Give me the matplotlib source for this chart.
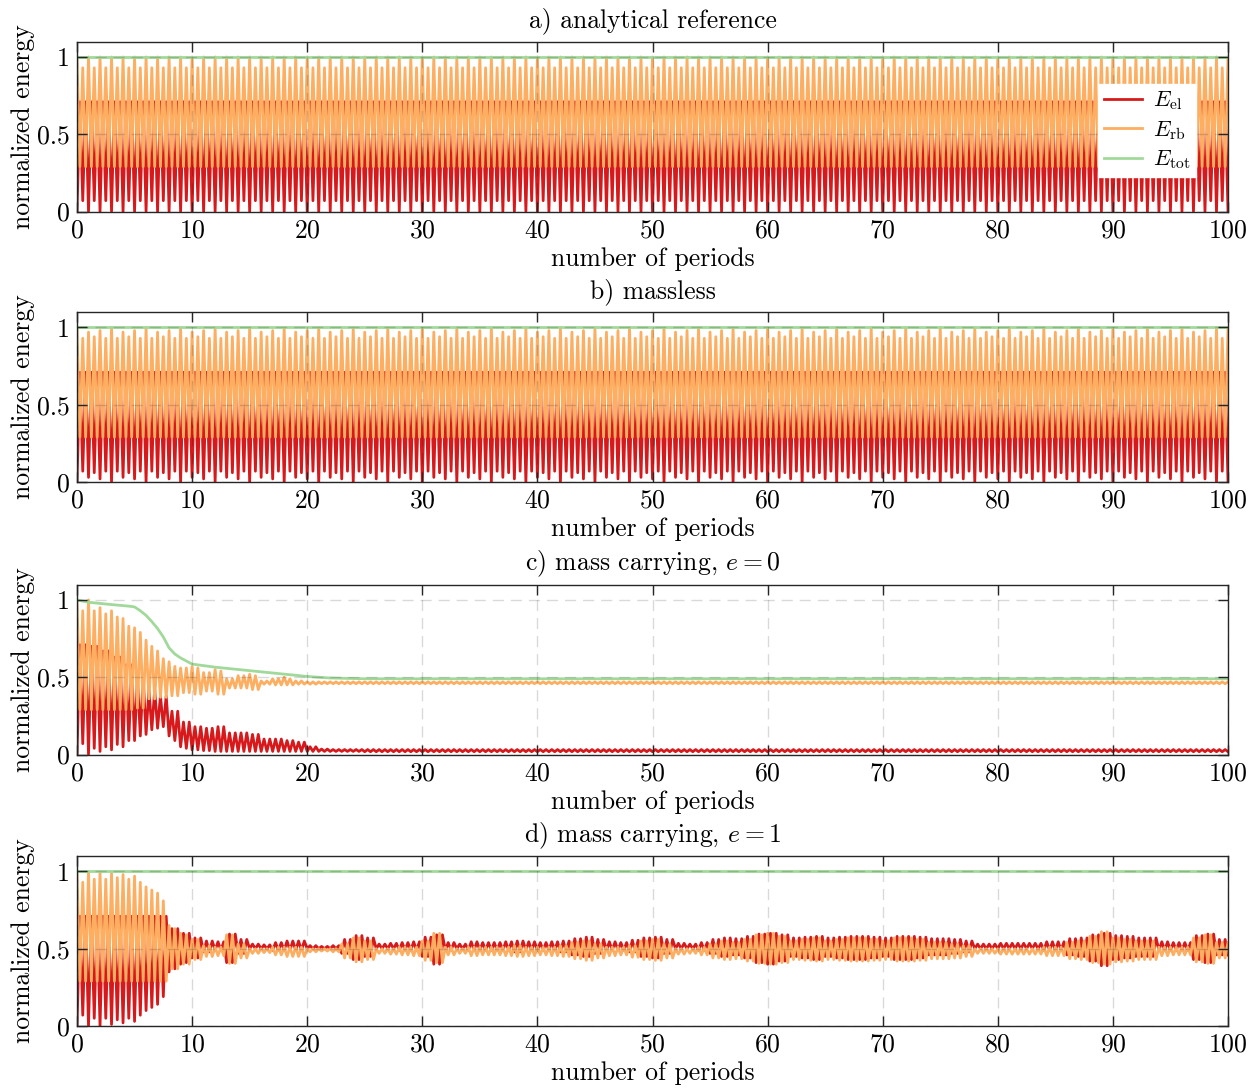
import numpy as np
import matplotlib
matplotlib.use("Agg")
import matplotlib.pyplot as plt

plt.rcParams["font.family"] = "serif"
plt.rcParams["font.serif"] = ["cmr10", "DejaVu Serif"]
plt.rcParams["mathtext.fontset"] = "cm"
plt.rcParams["axes.unicode_minus"] = False
plt.rcParams["axes.formatter.use_mathtext"] = True

RED = "#d7191c"
ORANGE = "#fdae61"
GREEN = "#a1d99b"

titles = ["a) analytical reference", "b) massless",
          r"c) mass carrying, $e = 0$", r"d) mass carrying, $e = 1$"]
x_ticks = [0, 10, 20, 30, 40, 50, 60, 70, 80, 90, 100]
y_ticks = [0, 0.5, 1]
y_tick_labels = ["0", "0.5", "1"]
n_periods = 100

# per period extrema: trough at n, peak at n+1/4, trough at n+1/2, peak at n+3/4
# a) analytical, one period repeats
a_el_lo = [0.0]
a_el_lo2 = [0.07]
a_el_hi = [0.71]
a_rb_hi = [1.0]
a_rb_hi2 = [0.93]
a_rb_lo = [0.29]
a_tot = 1.0

# b) massless, three period beat repeats
b_el_lo = [0.0, 0.03, 0.02]
b_el_lo2 = [0.07, 0.06, 0.07]
b_el_hi = [0.71, 0.71, 0.71]
b_rb_hi = [1.0, 0.97, 0.98]
b_rb_hi2 = [0.93, 0.94, 0.93]
b_rb_lo = [0.29, 0.29, 0.29]
b_tot = 1.0

# c) mass carrying e=0, transient periods 0..24, then steady values
c_el_lo = [0.0, 0.0, 0.02, 0.03, 0.05, 0.09, 0.13, 0.17, 0.12, 0.05,
           0.03, 0.025, 0.02, 0.02, 0.02, 0.02, 0.02, 0.02, 0.02, 0.02,
           0.02, 0.02, 0.02, 0.02, 0.02]
c_el_lo2 = [0.07, 0.04, 0.05, 0.065, 0.09, 0.12, 0.16, 0.18, 0.09, 0.04,
            0.03, 0.025, 0.02, 0.02, 0.02, 0.02, 0.02, 0.02, 0.02, 0.02,
            0.02, 0.02, 0.02, 0.02, 0.02]
c_el_hi = [0.71, 0.70, 0.67, 0.63, 0.58, 0.50, 0.42, 0.38, 0.28, 0.21,
           0.18, 0.17, 0.18, 0.14, 0.14, 0.13, 0.10, 0.10, 0.09, 0.08,
           0.05, 0.035, 0.032, 0.032, 0.032]
c_rb_hi = [1.0, 1.0, 0.95, 0.93, 0.88, 0.82, 0.74, 0.67, 0.60, 0.56,
           0.57, 0.53, 0.55, 0.49, 0.51, 0.52, 0.476, 0.49, 0.50, 0.476,
           0.47, 0.47, 0.47, 0.47, 0.47]
c_rb_hi2 = [0.93, 0.93, 0.91, 0.89, 0.83, 0.79, 0.70, 0.62, 0.57, 0.56,
            0.56, 0.53, 0.54, 0.49, 0.51, 0.51, 0.476, 0.49, 0.49, 0.476,
            0.47, 0.47, 0.47, 0.47, 0.47]
c_rb_lo = [0.29, 0.29, 0.29, 0.29, 0.29, 0.30, 0.36, 0.37, 0.38, 0.40,
           0.39, 0.41, 0.39, 0.43, 0.43, 0.42, 0.455, 0.45, 0.45, 0.455,
           0.455, 0.458, 0.458, 0.458, 0.458]
c_steady_el = (0.018, 0.032)
c_steady_rb = (0.47, 0.458)
c_tot_t = [0, 1, 3, 4.5, 5, 5.5, 6, 6.5, 7, 7.5, 8, 8.5, 9, 9.5, 10,
           12, 14, 16, 18, 20, 22, 25, 100]
c_tot = [1.0, 0.985, 0.97, 0.96, 0.955, 0.93, 0.90, 0.86, 0.815, 0.76,
         0.69, 0.65, 0.625, 0.605, 0.585, 0.565, 0.55, 0.535, 0.52, 0.505,
         0.495, 0.49, 0.49]

# d) mass carrying e=1, E_tot stays 1
d_el_lo = [0.0, 0.0, 0.0, 0.01, 0.02, 0.03, 0.10, 0.14, 0.35, 0.40,
           0.44, 0.48, 0.49, 0.41, 0.47, 0.50, 0.50, 0.49, 0.49, 0.49,
           0.50, 0.50, 0.50, 0.47, 0.43, 0.45, 0.50, 0.50, 0.49, 0.49,
           0.45, 0.40, 0.49, 0.50, 0.49, 0.49, 0.49, 0.49, 0.48, 0.49,
           0.49, 0.49, 0.48, 0.46, 0.45, 0.47, 0.49, 0.49, 0.48, 0.45,
           0.44, 0.47, 0.50, 0.50, 0.49, 0.47, 0.45, 0.46, 0.44, 0.41,
           0.40, 0.42, 0.45, 0.44, 0.43, 0.45, 0.44, 0.43, 0.43, 0.44,
           0.45, 0.43, 0.43, 0.44, 0.46, 0.46, 0.47, 0.48, 0.50, 0.50,
           0.50, 0.50, 0.50, 0.50, 0.49, 0.49, 0.46, 0.45, 0.42, 0.39,
           0.43, 0.44, 0.45, 0.45, 0.49, 0.49, 0.49, 0.43, 0.41, 0.46]
d_el_lo2_start = [0.07, 0.05, 0.05, 0.04, 0.05, 0.07, 0.12, 0.19, 0.37, 0.41]
d_el_hi = [0.71, 0.71, 0.71, 0.71, 0.71, 0.71, 0.71, 0.71, 0.63, 0.60,
           0.57, 0.55, 0.545, 0.595, 0.56, 0.53, 0.525, 0.54, 0.55, 0.55,
           0.52, 0.515, 0.52, 0.56, 0.585, 0.57, 0.53, 0.535, 0.54, 0.545,
           0.575, 0.59, 0.54, 0.53, 0.545, 0.54, 0.54, 0.545, 0.55, 0.545,
           0.54, 0.545, 0.55, 0.565, 0.575, 0.56, 0.545, 0.54, 0.555, 0.57,
           0.575, 0.56, 0.535, 0.53, 0.54, 0.56, 0.57, 0.565, 0.58, 0.595,
           0.60, 0.59, 0.57, 0.575, 0.58, 0.57, 0.575, 0.58, 0.58, 0.575,
           0.57, 0.58, 0.58, 0.575, 0.565, 0.565, 0.56, 0.55, 0.53, 0.53,
           0.535, 0.535, 0.535, 0.535, 0.545, 0.545, 0.565, 0.57, 0.59, 0.60,
           0.585, 0.58, 0.57, 0.57, 0.545, 0.54, 0.54, 0.585, 0.595, 0.56]
d_tot = 1.0


def periodic(vals):
    return np.tile(vals, n_periods // len(vals) + 1)[:n_periods]


def with_steady(vals, steady):
    return np.concatenate([vals, np.full(n_periods - len(vals), steady)])


def zigzag(lo, hi, lo2):
    # trough, peak, trough, peak inside every period, plus the end point
    n = len(lo)
    t = (np.arange(n)[:, None] + np.array([0, 0.25, 0.5, 0.75])).ravel()
    y = np.column_stack([lo, hi, lo2, hi]).ravel()
    return np.append(t, n), np.append(y, lo[-1])


panels = []
panels.append(dict(el=zigzag(periodic(a_el_lo), periodic(a_el_hi), periodic(a_el_lo2)),
                   rb=zigzag(periodic(a_rb_hi), periodic(a_rb_lo), periodic(a_rb_hi2)),
                   tot=([0, n_periods], [a_tot, a_tot])))
panels.append(dict(el=zigzag(periodic(b_el_lo), periodic(b_el_hi), periodic(b_el_lo2)),
                   rb=zigzag(periodic(b_rb_hi), periodic(b_rb_lo), periodic(b_rb_hi2)),
                   tot=([0, n_periods], [b_tot, b_tot])))
panels.append(dict(el=zigzag(with_steady(c_el_lo, c_steady_el[0]),
                             with_steady(c_el_hi, c_steady_el[1]),
                             with_steady(c_el_lo2, c_steady_el[0])),
                   rb=zigzag(with_steady(c_rb_hi, c_steady_rb[0]),
                             with_steady(c_rb_lo, c_steady_rb[1]),
                             with_steady(c_rb_hi2, c_steady_rb[0])),
                   tot=(c_tot_t, c_tot)))
d_lo = np.array(d_el_lo)
d_hi = np.array(d_el_hi)
d_lo2 = np.concatenate([d_el_lo2_start, d_lo[len(d_el_lo2_start):]])
# E_rb = E_tot - E_el
panels.append(dict(el=zigzag(d_lo, d_hi, d_lo2),
                   rb=zigzag(d_tot - d_lo, d_tot - d_hi, d_tot - d_lo2),
                   tot=([0, n_periods], [d_tot, d_tot])))

W, H = 1258, 1090
fig = plt.figure(figsize=(W / 100, H / 100), dpi=100)
ax_left, ax_right = 77, 1228
ax_tops = [41.5, 312, 584.5, 856]
ax_h = 170
fs = 18.5

for i, p in enumerate(panels):
    top = ax_tops[i]
    ax = fig.add_axes([ax_left / W, 1 - (top + ax_h) / H,
                       (ax_right - ax_left) / W, ax_h / H])
    ax.plot(*p["el"], color=RED, lw=2.0, label=r"$E_\mathrm{el}$")
    ax.plot(*p["rb"], color=ORANGE, lw=2.0, label=r"$E_\mathrm{rb}$")
    ax.plot(*p["tot"], color=GREEN, lw=2.0, label=r"$E_\mathrm{tot}$")
    ax.set_xlim(0, 100)
    ax.set_ylim(0, 1.1)
    ax.set_xticks(x_ticks)
    ax.set_yticks(y_ticks)
    ax.set_yticklabels(y_tick_labels)
    ax.set_axisbelow(False)
    ax.grid(True, color="k", alpha=0.15, lw=1.0, ls=(0, (8, 5)))
    ax.tick_params(direction="in", top=True, right=True, length=7,
                   width=1.0, labelsize=fs, color="#262626", pad=5)
    for s in ax.spines.values():
        s.set_color("#262626")
        s.set_linewidth(1.0)
    ax.set_title(titles[i], fontsize=fs, pad=10)
    ax.set_xlabel("number of periods", fontsize=fs, labelpad=3.5)
    ax.set_ylabel("normalized energy", fontsize=fs, labelpad=2)
    if i == 0:
        leg = ax.legend(loc="upper right", bbox_to_anchor=(0.972, 0.75),
                        fontsize=16, frameon=True, fancybox=False,
                        edgecolor="white", framealpha=1, handlelength=1.7,
                        borderpad=0.25, labelspacing=0.3, handletextpad=0.5,
                        borderaxespad=0)
        leg.set_zorder(10)

fig.savefig("out.png", dpi=100)
